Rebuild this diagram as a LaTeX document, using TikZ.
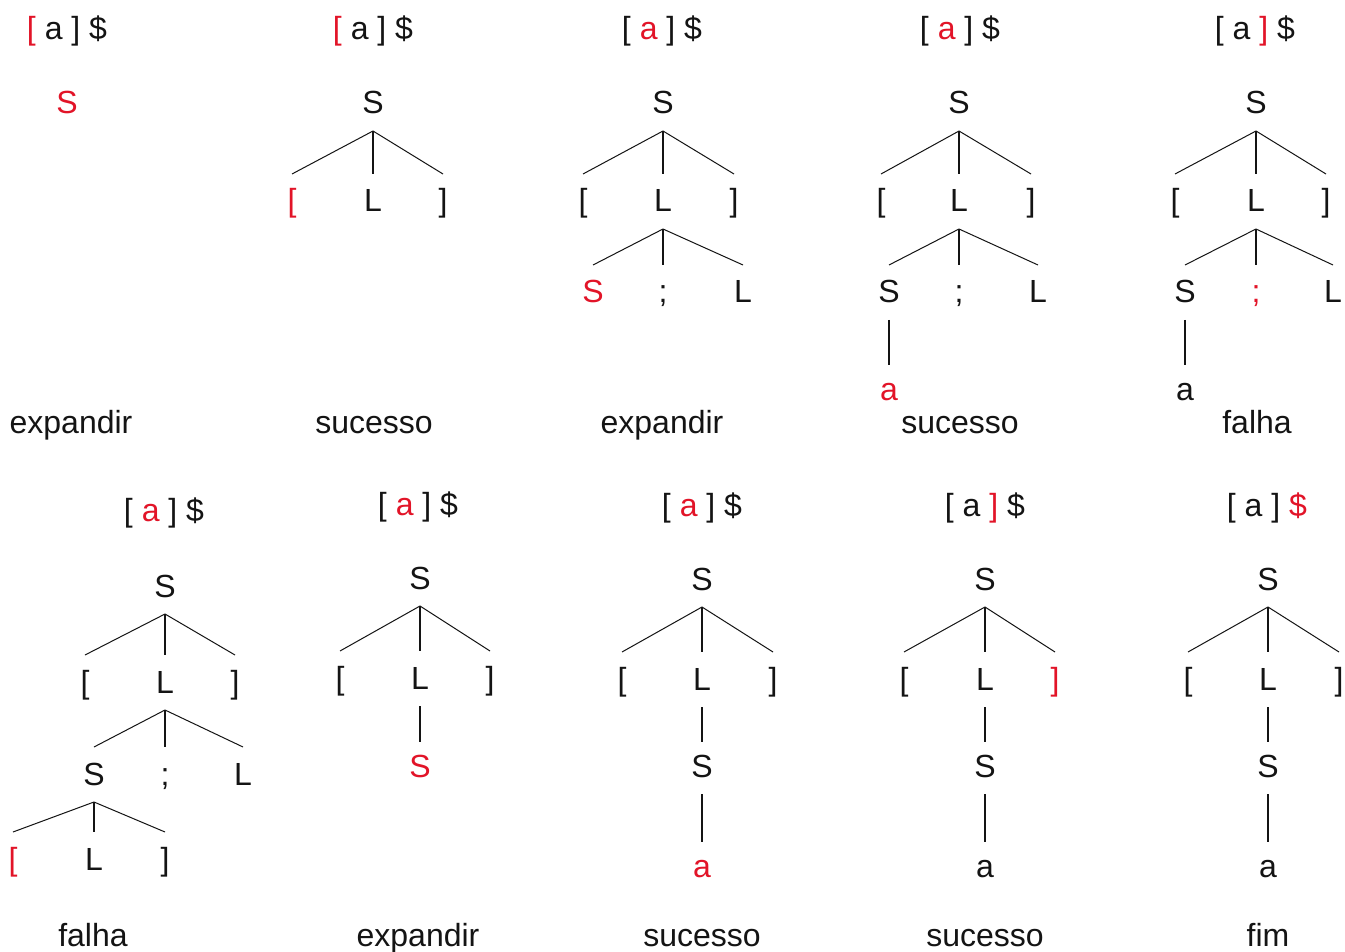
\documentclass[tikz,border=0pt]{standalone}
\usepackage{fontspec}
\setmainfont{Liberation Sans}
\definecolor{hl}{RGB}{226,20,40}
\definecolor{ink}{RGB}{20,20,20}
\newcommand{\hr}[1]{\textcolor{hl}{#1}}
\newcommand{\branchthree}[4]{%
  \draw[ln] ([yshift=-17pt]#1.base) -- ([yshift=38pt]#2.base);
  \draw[vln] ([yshift=-17pt]#1.base) -- ([yshift=38pt]#3.base);
  \draw[ln] ([yshift=-17pt]#1.base) -- ([yshift=38pt]#4.base);}
\newcommand{\branchone}[2]{%
  \draw[vln] ([yshift=-17pt]#1.base) -- ([yshift=35pt]#2.base);}
\begin{document}
\begin{tikzpicture}[x=1pt,y=-1pt,
  t/.style={anchor=base,inner sep=0pt,outer sep=0pt,text=ink,font=\fontsize{32}{38}\selectfont},
  r/.style={t,text=hl},
  ln/.style={line width=1pt,draw=ink},
  vln/.style={line width=1.3pt,draw=ink}]
\useasboundingbox[fill=white] (0,0) rectangle (1345,952);

% ---------- Panel 1 ----------
\node[t] (h1) at (67,40) {\hr{[} a ] \$};
\node[r] (p1s) at (67,114) {S};
\node[t] (l1) at (71,433) {expandir};

% ---------- Panel 2 ----------
\node[t] (h2) at (373,40) {\hr{[} a ] \$};
\node[t] (p2s) at (373,114) {S};
\node[r] (p2a) at (292,212) {[};
\node[t] (p2b) at (373,212) {L};
\node[t] (p2c) at (443,212) {]};
\branchthree{p2s}{p2a}{p2b}{p2c}
\node[t] (l2) at (374,433) {sucesso};

% ---------- Panel 3 ----------
\node[t] (h3) at (662,40) {[ \hr{a} ] \$};
\node[t] (p3s) at (663,114) {S};
\node[t] (p3a) at (583,212) {[};
\node[t] (p3b) at (663,212) {L};
\node[t] (p3c) at (734,212) {]};
\branchthree{p3s}{p3a}{p3b}{p3c}
\node[r] (p3d) at (593,303) {S};
\node[t] (p3e) at (663,303) {;};
\node[t] (p3f) at (743,303) {L};
\branchthree{p3b}{p3d}{p3e}{p3f}
\node[t] (l3) at (662,433) {expandir};

% ---------- Panel 4 ----------
\node[t] (h4) at (960,40) {[ \hr{a} ] \$};
\node[t] (p4s) at (959,114) {S};
\node[t] (p4a) at (881,212) {[};
\node[t] (p4b) at (959,212) {L};
\node[t] (p4c) at (1031,212) {]};
\branchthree{p4s}{p4a}{p4b}{p4c}
\node[t] (p4d) at (889,303) {S};
\node[t] (p4e) at (959,303) {;};
\node[t] (p4f) at (1038,303) {L};
\branchthree{p4b}{p4d}{p4e}{p4f}
\node[r] (p4g) at (889,400) {a};
\branchone{p4d}{p4g}
\node[t] (l4) at (960,433) {sucesso};

% ---------- Panel 5 ----------
\node[t] (h5) at (1255,40) {[ a \hr{]} \$};
\node[t] (p5s) at (1256,114) {S};
\node[t] (p5a) at (1175,212) {[};
\node[t] (p5b) at (1256,212) {L};
\node[t] (p5c) at (1326,212) {]};
\branchthree{p5s}{p5a}{p5b}{p5c}
\node[t] (p5d) at (1185,303) {S};
\node[r] (p5e) at (1256,303) {;};
\node[t] (p5f) at (1333,303) {L};
\branchthree{p5b}{p5d}{p5e}{p5f}
\node[t] (p5g) at (1185,400) {a};
\branchone{p5d}{p5g}
\node[t] (l5) at (1257,433) {falha};

% ---------- Panel 6 ----------
\node[t] (h6) at (164,521) {[ \hr{a} ] \$};
\node[t] (p6s) at (165,597) {S};
\node[t] (p6a) at (85,693) {[};
\node[t] (p6b) at (165,693) {L};
\node[t] (p6c) at (235,693) {]};
\branchthree{p6s}{p6a}{p6b}{p6c}
\node[t] (p6d) at (94,785) {S};
\node[t] (p6e) at (165,785) {;};
\node[t] (p6f) at (243,785) {L};
\branchthree{p6b}{p6d}{p6e}{p6f}
\node[r] (p6g) at (13,870) {[};
\node[t] (p6h) at (94,870) {L};
\node[t] (p6i) at (165,870) {]};
\branchthree{p6d}{p6g}{p6h}{p6i}
\node[t] (l6) at (93,946) {falha};

% ---------- Panel 7 ----------
\node[t] (h7) at (418,515) {[ \hr{a} ] \$};
\node[t] (p7s) at (420,589) {S};
\node[t] (p7a) at (340,689) {[};
\node[t] (p7b) at (420,689) {L};
\node[t] (p7c) at (490,689) {]};
\branchthree{p7s}{p7a}{p7b}{p7c}
\node[r] (p7d) at (420,777) {S};
\branchone{p7b}{p7d}
\node[t] (l7) at (418,946) {expandir};

% ---------- Panel 8 ----------
\node[t] (h8) at (702,516) {[ \hr{a} ] \$};
\node[t] (p8s) at (702,590) {S};
\node[t] (p8a) at (622,690) {[};
\node[t] (p8b) at (702,690) {L};
\node[t] (p8c) at (773,690) {]};
\branchthree{p8s}{p8a}{p8b}{p8c}
\node[t] (p8d) at (702,777) {S};
\branchone{p8b}{p8d}
\node[r] (p8e) at (702,877) {a};
\branchone{p8d}{p8e}
\node[t] (l8) at (702,946) {sucesso};

% ---------- Panel 9 ----------
\node[t] (h9) at (985,516) {[ a \hr{]} \$};
\node[t] (p9s) at (985,590) {S};
\node[t] (p9a) at (904,690) {[};
\node[t] (p9b) at (985,690) {L};
\node[r] (p9c) at (1055,690) {]};
\branchthree{p9s}{p9a}{p9b}{p9c}
\node[t] (p9d) at (985,777) {S};
\branchone{p9b}{p9d}
\node[t] (p9e) at (985,877) {a};
\branchone{p9d}{p9e}
\node[t] (l9) at (985,946) {sucesso};

% ---------- Panel 10 ----------
\node[t] (h10) at (1267,516) {[ a ] \hr{\$}};
\node[t] (p10s) at (1268,590) {S};
\node[t] (p10a) at (1188,690) {[};
\node[t] (p10b) at (1268,690) {L};
\node[t] (p10c) at (1339,690) {]};
\branchthree{p10s}{p10a}{p10b}{p10c}
\node[t] (p10d) at (1268,777) {S};
\branchone{p10b}{p10d}
\node[t] (p10e) at (1268,877) {a};
\branchone{p10d}{p10e}
\node[t] (l10) at (1268,946) {fim};
\end{tikzpicture}
\end{document}
